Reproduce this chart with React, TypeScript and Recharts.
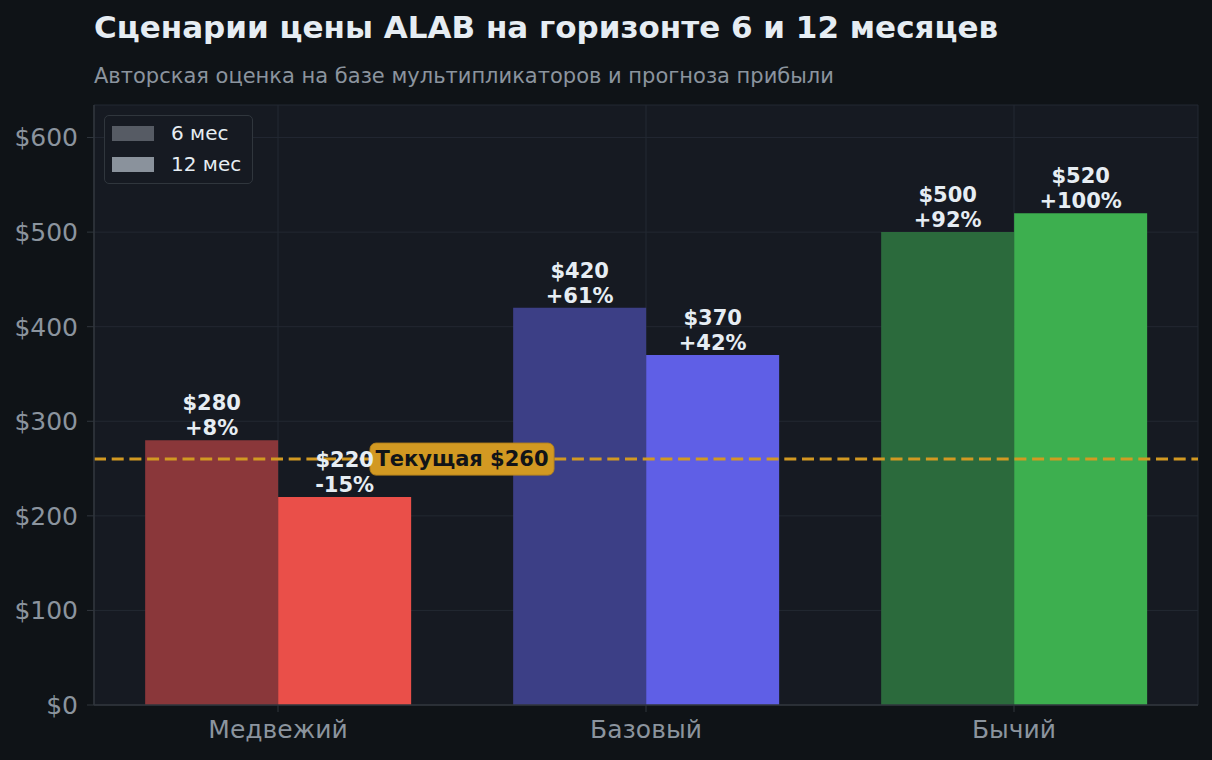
import { Bar, BarChart, CartesianGrid, Cell, LabelList, ReferenceLine, XAxis, YAxis } from "recharts";

const scenarios = ["Медвежий", "Базовый", "Бычий"];
const price6m = [280, 420, 500];
const price12m = [220, 370, 520];
const pct6m = ["+8%", "+61%", "+92%"];
const pct12m = ["-15%", "+42%", "+100%"];
const currentPrice = 260;
const yTicks = [0, 100, 200, 300, 400, 500, 600];

const colors6m = ["#8a373a", "#3c3f86", "#2b6a3c"];
const colors12m = ["#ea4f49", "#5f5fe6", "#3daf4f"];

const BG = "#0f1317";
const PLOT = "#161a22";
const MUTED = "#8b949e";
const INK = "#e6edf3";
const LINE = "#30363d";
const AMBER = "#d29922";
const FONT = "'DejaVu Sans', sans-serif";

const rows = scenarios.map((name, i) => ({
  name,
  m6: price6m[i],
  m12: price12m[i],
}));

function barLabel(pcts: string[]) {
  return (props: any) => {
    const { x, y, width, value, index } = props;
    const cx = Number(x) + Number(width) / 2;
    const top = Number(y);
    return (
      <g>
        <text x={cx} y={top - 30} textAnchor="middle" fill={INK} fontSize={21} fontWeight="bold" fontFamily={FONT}>
          ${value}
        </text>
        <text x={cx} y={top - 5} textAnchor="middle" fill={INK} fontSize={21} fontWeight="bold" fontFamily={FONT}>
          {pcts[index]}
        </text>
      </g>
    );
  };
}

function CurrentLabel(props: any) {
  const vb = props.viewBox ?? {};
  const cx = vb.x + vb.width / 3;
  const cy = vb.y;
  const w = 184;
  const h = 32;
  return (
    <g>
      <rect x={cx - w / 2} y={cy - h / 2} width={w} height={h} rx={6} fill={AMBER} stroke="#b8841c" />
      <text x={cx} y={cy + 7} textAnchor="middle" fill="#111418" fontSize={21} fontWeight="bold" fontFamily={FONT}>
        Текущая ${currentPrice}
      </text>
    </g>
  );
}

export default function App() {
  return (
    <div style={{ position: "absolute", left: 0, top: 0, width: 1212, height: 760, background: BG, fontFamily: FONT }}>
      <div style={{ position: "absolute", left: 94, top: 12, lineHeight: 1, color: INK, fontSize: 31, fontWeight: "bold", whiteSpace: "nowrap" }}>
        Сценарии цены ALAB на горизонте 6 и 12 месяцев
      </div>
      <div style={{ position: "absolute", left: 94, top: 66, lineHeight: 1, color: MUTED, fontSize: 21, whiteSpace: "nowrap" }}>
        Авторская оценка на базе мультипликаторов и прогноза прибыли
      </div>
      <BarChart
        width={1212}
        height={760}
        data={rows}
        margin={{ top: 105, right: 14, bottom: 0, left: 0 }}
        barCategoryGap="13.9%"
        barGap={0}
        style={{ position: "absolute", left: 0, top: 0 }}
      >
        <CartesianGrid fill={PLOT} stroke="#232832" strokeWidth={1} />
        <XAxis
          dataKey="name"
          height={55}
          tick={{ fill: MUTED, fontSize: 25, fontFamily: FONT }}
          tickSize={7}
          tickMargin={8}
          tickLine={{ stroke: LINE }}
          axisLine={{ stroke: LINE, strokeWidth: 1.5 }}
        />
        <YAxis
          width={94}
          domain={[0, 634.4]}
          ticks={yTicks}
          tickFormatter={(v) => `$${v}`}
          tick={{ fill: MUTED, fontSize: 25, fontFamily: FONT }}
          tickSize={7}
          tickMargin={9}
          tickLine={{ stroke: LINE }}
          axisLine={{ stroke: LINE, strokeWidth: 1.5 }}
        />
        <Bar dataKey="m6" isAnimationActive={false}>
          {rows.map((_, i) => (
            <Cell key={i} fill={colors6m[i]} />
          ))}
          <LabelList dataKey="m6" content={barLabel(pct6m)} />
        </Bar>
        <Bar dataKey="m12" isAnimationActive={false}>
          {rows.map((_, i) => (
            <Cell key={i} fill={colors12m[i]} />
          ))}
          <LabelList dataKey="m12" content={barLabel(pct12m)} />
        </Bar>
        <ReferenceLine
          y={currentPrice}
          stroke={AMBER}
          strokeWidth={3}
          strokeDasharray="12 5.7"
          label={<CurrentLabel />}
        />
      </BarChart>
      <div
        style={{
          position: "absolute",
          left: 104,
          top: 115,
          width: 147,
          height: 67,
          border: `1px solid ${LINE}`,
          borderRadius: 5,
          background: PLOT,
          color: INK,
          fontSize: 20,
        }}
      >
        {[
          { label: "6 мес", color: "#565b64" },
          { label: "12 мес", color: "#8a929c" },
        ].map((item, i) => (
          <div key={item.label} style={{ position: "absolute", left: 7, top: 6 + i * 31, display: "flex", alignItems: "center", height: 22 }}>
            <span style={{ display: "inline-block", width: 42, height: 15, background: item.color }} />
            <span style={{ marginLeft: 17, whiteSpace: "nowrap" }}>{item.label}</span>
          </div>
        ))}
      </div>
    </div>
  );
}
